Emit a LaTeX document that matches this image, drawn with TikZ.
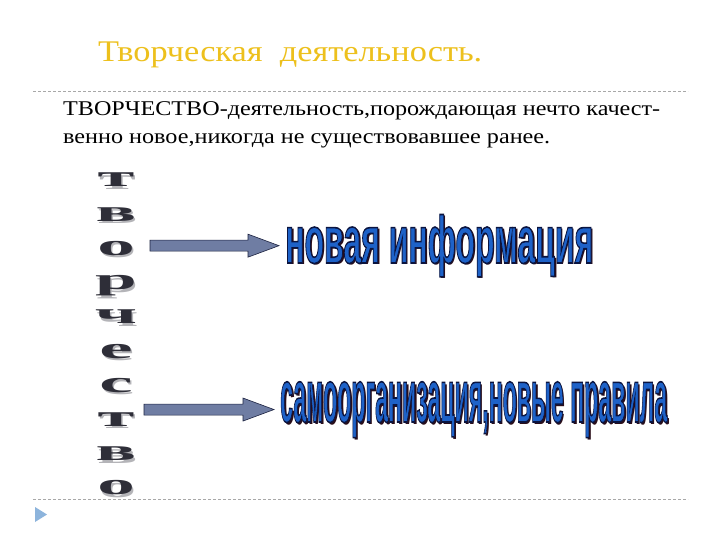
\documentclass[tikz,border=0pt]{standalone}
\usepackage{fontspec}
\setmainfont{Liberation Serif}
\newfontfamily\condsans{Liberation Sans}
\usepackage{graphicx}
\usetikzlibrary{calc}
\definecolor{title-gold}{HTML}{EDC01C}
\definecolor{info-blue}{HTML}{1E62C8}
\definecolor{info-shade}{HTML}{2A0E1A}
\definecolor{arrow-fill}{HTML}{6F7DA3}
\definecolor{arrow-edge}{HTML}{1C2240}
\definecolor{rule-gray}{HTML}{A8A8A8}
\definecolor{letter-ink}{HTML}{2E2E38}
\definecolor{letter-shade}{HTML}{B4B4B8}
\definecolor{bullet-blue}{HTML}{8DB4DC}
\newcommand{\inkedge}[1]{\special{pdf:literal direct 0.04 0.08 0.25 RG 1.6 w 2 Tr}#1\special{pdf:literal direct 0 Tr}}

\begin{document}
\begin{tikzpicture}[x=1pt, y=-1pt,
    every node/.style={inner sep=0pt, anchor=base west},
    rule/.style={rule-gray, line width=0.8pt, dash pattern=on 3pt off 2pt},
    letter/.style={anchor=base, text=letter-ink, font=\fontsize{30}{30}\selectfont\bfseries},
    lettershade/.style={anchor=base, text=letter-shade, font=\fontsize{30}{30}\selectfont\bfseries},
    blockarrow/.style={fill=arrow-fill, draw=arrow-edge, line width=0.6pt,
      to path={let \p1=(\tikztostart), \p2=(\tikztotarget.west) in
        (\x1,\y2+5.5pt) -- (\x2-37pt,\y2+5.5pt) -- (\x2-37pt,\y2+11.5pt) -- (\x2-6pt,\y2)
        -- (\x2-37pt,\y2-11.5pt) -- (\x2-37pt,\y2-5.5pt) -- (\x1,\y2-5.5pt) -- cycle}}]
  \useasboundingbox (0,0) rectangle (720,540);
  \fill[white] (0,0) rectangle (720,540);
  \node[text=title-gold] (title) at (98,62)
    {\resizebox{384pt}{\height}{\fontsize{30}{30}\selectfont Творческая\ \ деятельность.}};
  \draw[rule] (33,91) -- (688,91);
  \node (def1) at (63,116)
    {\resizebox{597pt}{\height}{\fontsize{21}{21}\selectfont ТВОРЧЕСТВО-деятельность,порождающая нечто качест-}};
  \node (def2) at (63,144)
    {\resizebox{487pt}{\height}{\fontsize{21}{21}\selectfont венно новое,никогда не существовавшее ранее.}};
  \foreach \ch [count=\i from 0] in {т,в,о,р,ч,е,с,т,в,о} {
    \node[lettershade] (S\i) at (117.5,189.5+34.2*\i) {\scalebox{2.5}[1]{\ch}};
    \node[letter] (L\i) at (116,187+34.2*\i) {\scalebox{2.5}[1]{\ch}};
  }
  \node[text=info-shade] (infoS) at (287,265)
    {\resizebox{308pt}{\height}{\condsans\bfseries\fontsize{67}{67}\selectfont новая информация}};
  \node[text=info-blue] (info) at (285,263)
    {\inkedge{\resizebox{308pt}{\height}{\condsans\bfseries\fontsize{67}{67}\selectfont новая информация}}};
  \node[text=info-shade] (samoS) at (282,424)
    {\resizebox{387pt}{\height}{\condsans\bfseries\fontsize{75}{75}\selectfont самоорганизация,новые правила}};
  \node[text=info-blue] (samo) at (280,422)
    {\inkedge{\resizebox{387pt}{\height}{\condsans\bfseries\fontsize{75}{75}\selectfont самоорганизация,новые правила}}};
  \coordinate (a1) at (150,247);
  \coordinate (a2) at (144,405);
  \draw[blockarrow] (a1) to (info);
  \draw[blockarrow] (a2) to (samo);
  \draw[rule] (33,499) -- (688,499);
  \fill[bullet-blue] (35,507) -- (47,514.5) -- (35,522) -- cycle;
\end{tikzpicture}
\end{document}
